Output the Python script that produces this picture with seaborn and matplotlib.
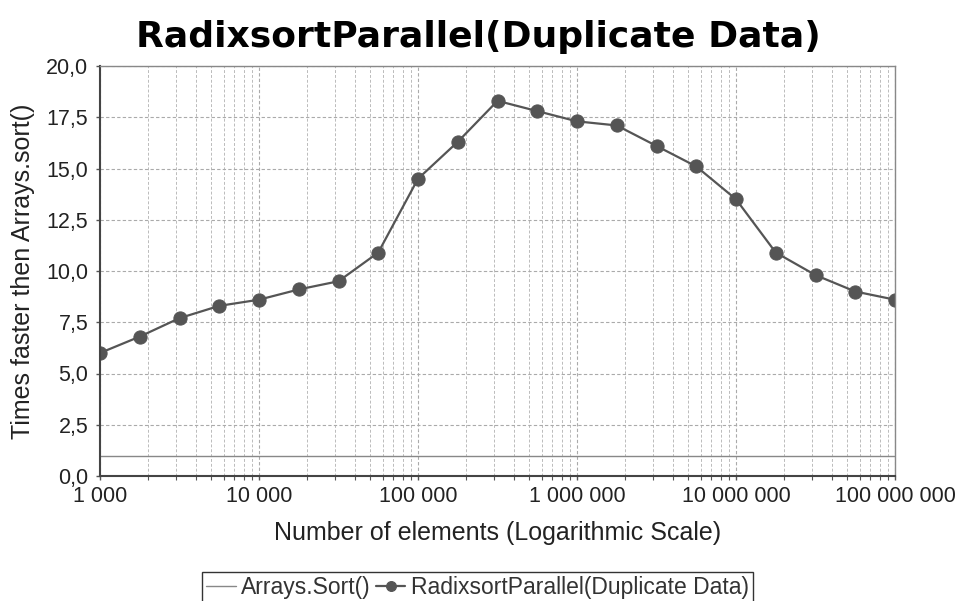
import numpy as np
import pandas as pd
import matplotlib
matplotlib.use("Agg")
import matplotlib.pyplot as plt
import matplotlib.ticker as mticker
import seaborn as sns

# Data
exponents = [3.0, 3.25, 3.5, 3.75, 4.0, 4.25, 4.5, 4.75, 5.0, 5.25, 5.5,
             5.75, 6.0, 6.25, 6.5, 6.75, 7.0, 7.25, 7.5, 7.75, 8.0]
elements = [10 ** e for e in exponents]
radix_parallel = [6.0, 6.8, 7.7, 8.3, 8.6, 9.1, 9.5, 10.9, 14.5, 16.3, 18.3,
                  17.8, 17.3, 17.1, 16.1, 15.1, 13.5, 10.9, 9.8, 9.0, 8.6]
arrays_sort = [1.0] * len(elements)
series_names = ["Arrays.Sort()", "RadixsortParallel(Duplicate Data)"]
x_ticks = [1e3, 1e4, 1e5, 1e6, 1e7, 1e8]
y_ticks = [0.0, 2.5, 5.0, 7.5, 10.0, 12.5, 15.0, 17.5, 20.0]

title = "RadixsortParallel(Duplicate Data)"
x_label = "Number of elements (Logarithmic Scale)"
y_label = "Times faster then Arrays.sort()"

df = pd.DataFrame({
    "n": elements * 2,
    "speed": arrays_sort + radix_parallel,
    "series": [series_names[0]] * len(elements) + [series_names[1]] * len(elements),
})

sns.set_style("white")
plt.rcParams["font.family"] = ["Liberation Sans", "DejaVu Sans"]

fig = plt.figure(figsize=(9.55, 6.01), dpi=100)
ax = fig.add_axes([100 / 955, 1 - 476 / 601, 795 / 955, 410 / 601])

gc = "#555555"
sns.lineplot(data=df[df.series == series_names[0]], x="n", y="speed", ax=ax,
             color="#888888", linewidth=1.0, label=series_names[0])
sns.lineplot(data=df[df.series == series_names[1]], x="n", y="speed", ax=ax,
             color=gc, linewidth=1.6, marker="o", markersize=9.5,
             markeredgecolor=gc, markerfacecolor=gc, label=series_names[1])

ax.set_xscale("log")
ax.set_xlim(1e3, 1e8)
ax.set_ylim(0, 20)
ax.set_xticks(x_ticks)
ax.xaxis.set_minor_locator(mticker.LogLocator(base=10, subs=np.arange(2, 10)))
ax.xaxis.set_minor_formatter(mticker.NullFormatter())
ax.xaxis.set_major_formatter(mticker.FuncFormatter(lambda v, p: f"{int(round(v)):,}".replace(",", " ")))
ax.set_yticks(y_ticks)
ax.yaxis.set_major_formatter(mticker.FuncFormatter(lambda v, p: f"{v:.1f}".replace(".", ",")))

ax.grid(True, which="major", axis="both", color="#aaaaaa", linestyle=(0, (3, 2)), linewidth=0.8)
ax.grid(True, which="minor", axis="x", color="#bbbbbb", linestyle=(0, (3, 2)), linewidth=0.7)

for s in ax.spines.values():
    s.set_color("#888888")
    s.set_linewidth(1.0)
for side in ("bottom", "left"):
    ax.spines[side].set_color("#444444")
    ax.spines[side].set_linewidth(1.5)

ax.tick_params(axis="x", which="major", direction="out", length=3, width=1,
               color="#555555", labelsize=15.5, labelcolor="#222222", pad=4.5, bottom=True)
ax.tick_params(axis="y", which="major", direction="out", length=3, width=1,
               color="#555555", labelsize=15.5, labelcolor="#222222", pad=5.5, left=True)
ax.tick_params(axis="x", which="minor", direction="out", length=3, width=0.8,
               color="#555555", bottom=True)

ax.set_xlabel(x_label, fontsize=18, color="#222222")
ax.xaxis.label.set_va("baseline")
ax.xaxis.set_label_coords(0.5, (476 - 540) / 410)
ax.set_ylabel(y_label, fontsize=18, color="#222222")
ax.yaxis.label.set_va("center")
ax.yaxis.set_label_coords((23 - 100) / 795, 0.5)

fig.text(478 / 955, 1 - 47 / 601, title, ha="center", va="baseline", fontsize=26,
         fontweight="bold", family="DejaVu Sans", color="#000000")

ax.get_legend().remove()
handles, labels = ax.get_legend_handles_labels()
leg = fig.legend(handles, labels, loc="upper center", bbox_to_anchor=(0.5, 1 - 561 / 601),
                 ncol=2, frameon=True, fancybox=False, edgecolor="#000000",
                 fontsize=16.5, handlelength=1.3, handletextpad=0.25, columnspacing=0.2,
                 borderpad=0.15, markerscale=0.75)
leg.get_frame().set_linewidth(1.0)
for t in leg.get_texts():
    t.set_color("#333333")

fig.savefig("out.png", dpi=100, facecolor="white")
